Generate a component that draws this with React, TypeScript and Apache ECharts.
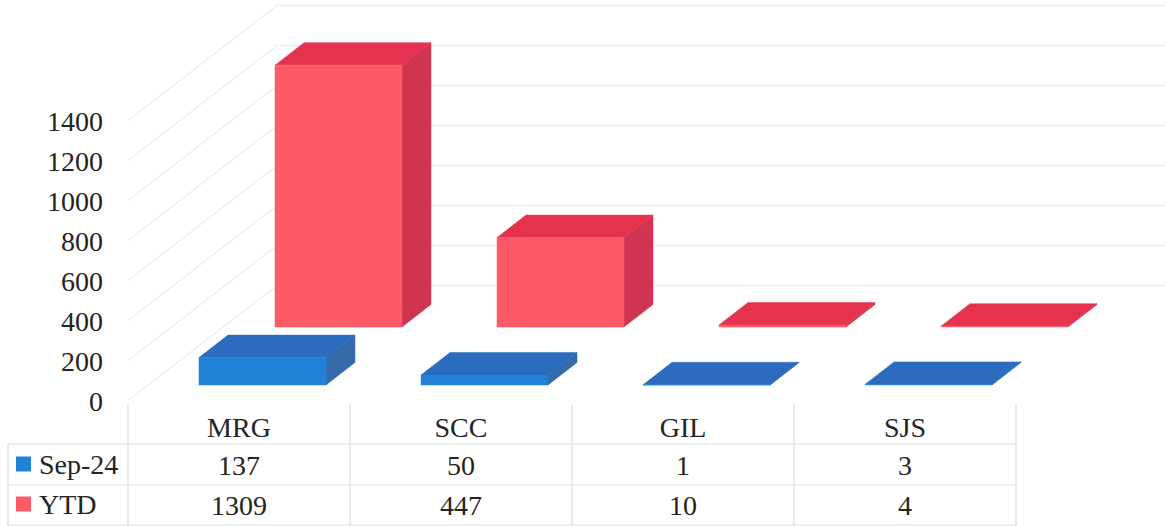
import React, { useEffect, useRef } from "react";
import * as echarts from "echarts";

const categories = ["MRG", "SCC", "GIL", "SJS"];
const sep24Values = [137, 50, 1, 3];
const ytdValues = [1309, 447, 10, 4];
const yTicks = [0, 200, 400, 600, 800, 1000, 1200, 1400];

const W = 1165;
const H = 526;
const FONT = '"Liberation Serif", "Times New Roman", serif';
const TEXT = "#242424";
const TABLE_LINE = "#dcdcdf";
const WALL_LINE = "#e8ecf6";
const GRID_L = 128;
const GRID_W = 888;
const GRID_T = 121;
const GRID_H = 280;

const barRenderer = (
  offX: number,
  offY: number,
  front: string,
  top: string,
  side: string
) => (params: any, api: any) => {
  const p = api.coord([api.value(0), api.value(1)]);
  const b = api.coord([api.value(0), 0]);
  const w = 127;
  const dx = 29;
  const dy = -22.5;
  const l = p[0] + offX - w / 2;
  const r = l + w;
  const t = p[1] + offY;
  const y0 = b[1] + offY;
  const poly = (points: number[][], fill: string) => ({
    type: "polygon",
    shape: { points },
    style: { fill, stroke: fill, lineWidth: 0.5 },
  });
  return {
    type: "group",
    children: [
      poly([[r, y0], [r + dx, y0 + dy], [r + dx, t + dy], [r, t]], side),
      poly([[l, t], [l + dx, t + dy], [r + dx, t + dy], [r, t]], top),
      poly([[l, y0], [r, y0], [r, t], [l, t]], front),
    ],
  };
};

const wallRenderer = (params: any, api: any) => {
  const p = api.coord([0, api.value(0)]);
  const x0 = GRID_L;
  const y0 = p[1] - 0.5;
  return {
    type: "polyline",
    shape: {
      points: [
        [x0, y0],
        [x0 + 149, y0 - 115],
        [W, y0 - 115],
      ],
    },
    style: { fill: "none", stroke: WALL_LINE, lineWidth: 1.2 },
  };
};

function tableGraphics() {
  const children: any[] = [];
  const line = (x1: number, y1: number, x2: number, y2: number) =>
    children.push({
      type: "line",
      shape: { x1, y1, x2, y2 },
      style: { stroke: TABLE_LINE, lineWidth: 1.2 },
    });
  const colW = GRID_W / categories.length;
  categories.forEach((_, i) => line(GRID_L + i * colW, 404, GRID_L + i * colW, 526));
  line(GRID_L + GRID_W, 404, GRID_L + GRID_W, 526);
  line(8, 444, 8, 526);
  line(8, 444, GRID_L + GRID_W, 444);
  line(8, 485, GRID_L + GRID_W, 485);
  line(8, 525, GRID_L + GRID_W, 525);
  const cell = (x: number, y: number, text: string) =>
    children.push({
      type: "text",
      x,
      y,
      style: {
        text,
        fill: TEXT,
        font: `28px ${FONT}`,
        align: "center",
        verticalAlign: "middle",
      },
    });
  [sep24Values, ytdValues].forEach((row, r) =>
    row.forEach((v, i) => cell(GRID_L + (i + 0.5) * colW, 465 + r * 40, String(v)))
  );
  return children;
}

export default function App() {
  const ref = useRef<HTMLDivElement>(null);
  useEffect(() => {
    const chart = echarts.init(ref.current!, undefined, { renderer: "svg" });
    chart.setOption({
      animation: false,
      backgroundColor: "#ffffff",
      grid: { left: GRID_L, top: GRID_T, width: GRID_W, height: GRID_H, containLabel: false },
      xAxis: {
        type: "category",
        data: categories,
        axisLine: { show: false },
        axisTick: { show: false },
        splitLine: { show: false },
        axisLabel: { color: TEXT, fontFamily: FONT, fontSize: 28, margin: 12 },
      },
      yAxis: {
        type: "value",
        min: 0,
        max: 1400,
        interval: 200,
        axisLine: { show: false },
        axisTick: { show: false },
        splitLine: { show: false },
        axisLabel: {
          color: TEXT,
          fontFamily: FONT,
          fontSize: 28,
          margin: 25,
          align: "right",
          padding: [5, 0, 0, 0],
          formatter: (v: number) => String(v),
        },
      },
      legend: {
        show: true,
        orient: "vertical",
        left: 16,
        top: 450,
        padding: 0,
        itemWidth: 15,
        itemHeight: 15,
        itemGap: 12,
        icon: "rect",
        data: ["Sep-24", "YTD"],
        textStyle: { color: TEXT, fontFamily: FONT, fontSize: 28, lineHeight: 28, padding: [0, 0, 0, 3] },
      },
      graphic: { elements: tableGraphics() },
      series: [
        {
          type: "custom",
          name: "wall",
          z: 1,
          silent: true,
          clip: false,
          data: yTicks.map((v) => [v]),
          encode: { y: 0 },
          renderItem: wallRenderer,
        },
        {
          type: "custom",
          name: "YTD",
          z: 2,
          clip: false,
          itemStyle: { color: "#FB5A66" },
          data: ytdValues.map((v, i) => [i, v]),
          encode: { x: 0, y: 1 },
          renderItem: barRenderer(99.5, -74, "#FB5A66", "#E5324F", "#CF3450"),
        },
        {
          type: "custom",
          name: "Sep-24",
          z: 3,
          clip: false,
          itemStyle: { color: "#1F82D6" },
          data: sep24Values.map((v, i) => [i, v]),
          encode: { x: 0, y: 1 },
          renderItem: barRenderer(23.5, -16, "#1F82D6", "#2B6CBE", "#376AAB"),
        },
      ],
    });
    return () => chart.dispose();
  }, []);
  return <div ref={ref} style={{ position: "fixed", left: 0, top: 0, width: W, height: H }} />;
}
